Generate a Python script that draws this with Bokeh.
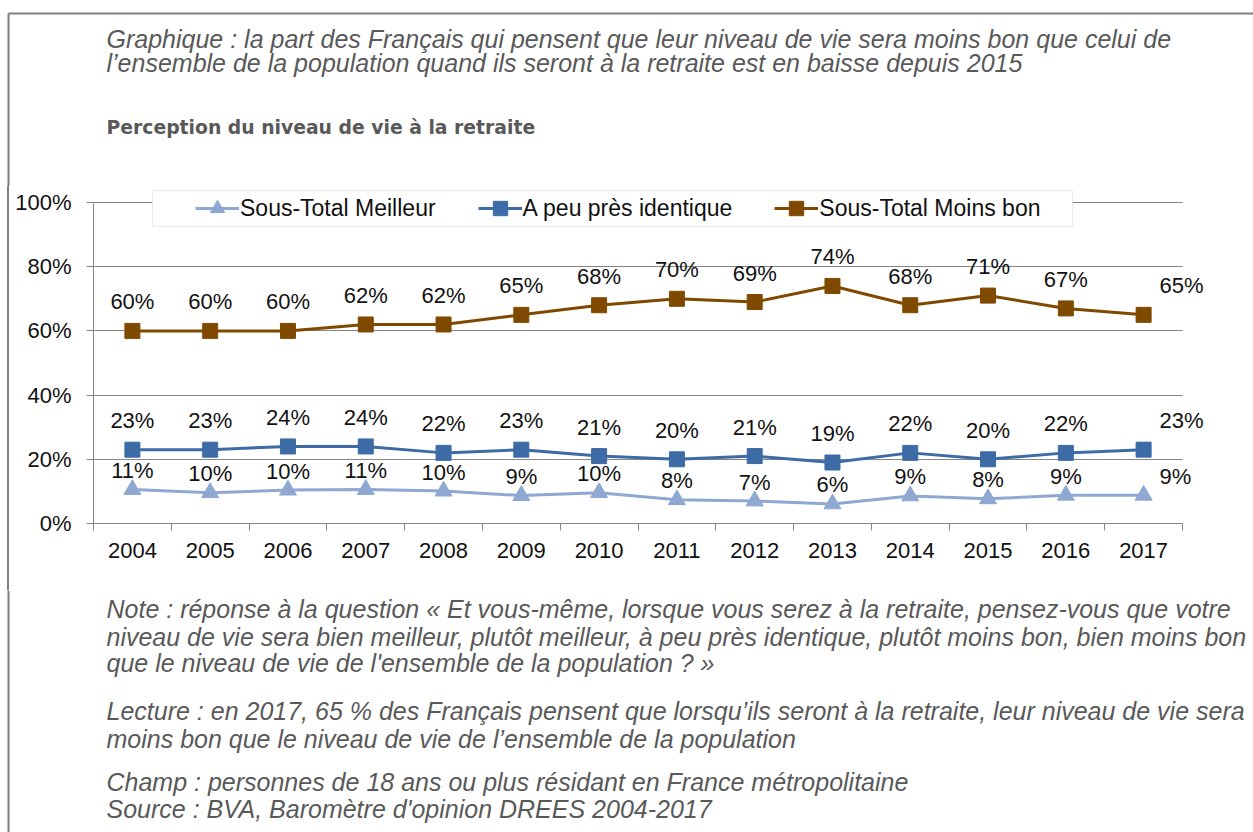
from bokeh.plotting import figure
from bokeh.layouts import column, row
from bokeh.models import (BoxAnnotation, Legend, LegendItem, FixedTicker,
                          PrintfTickFormatter, Range1d, Div)
from bokeh.embed import file_html
from bokeh.resources import INLINE
from bokeh.core.properties import value

# ---------------- data ----------------
years = [2004, 2005, 2006, 2007, 2008, 2009, 2010, 2011, 2012, 2013, 2014, 2015, 2016, 2017]
meilleur = [10.6, 9.6, 10.4, 10.6, 10.1, 8.7, 9.6, 7.4, 7.0, 6.1, 8.6, 7.7, 8.8, 8.8]
meilleur_labels = ["11%", "10%", "10%", "11%", "10%", "9%", "10%", "8%", "7%", "6%", "9%", "8%", "9%", "9%"]
identique = [23, 23, 24, 24, 22, 23, 21, 20, 21, 19, 22, 20, 22, 23]
moins_bon = [60, 60, 60, 62, 62, 65, 68, 70, 69, 74, 68, 71, 67, 65]
series_names = ["Sous-Total Meilleur", "A peu près identique", "Sous-Total Moins bon"]
y_ticks = [0, 20, 40, 60, 80, 100]

title_lines = [
    "Graphique : la part des Français qui pensent que leur niveau de vie sera moins bon que celui de",
    "l’ensemble de la population quand ils seront à la retraite est en baisse depuis 2015",
]
subtitle = "Perception du niveau de vie à la retraite"
note_lines = [
    "Note : réponse à la question « Et vous-même, lorsque vous serez à la retraite, pensez-vous que votre",
    "niveau de vie sera bien meilleur, plutôt meilleur, à peu près identique, plutôt moins bon, bien moins bon",
    "que le niveau de vie de l'ensemble de la population ? »",
    "Lecture : en 2017, 65 % des Français pensent que lorsqu’ils seront à la retraite, leur niveau de vie sera",
    "moins bon que le niveau de vie de l’ensemble de la population",
    "Champ : personnes de 18 ans ou plus résidant en France métropolitaine",
    "Source : BVA, Baromètre d'opinion DREES 2004-2017",
]

# ---------------- style ----------------
FONT = "Liberation Sans"
C_MEIL = "#8EA8D2"
C_IDEN = "#3D6BA6"
C_MOINS = "#7F4A00"
GREY = "#868686"
BORDER = "#7F7F7F"
TXT_GREY = "#595959"
TXT = "#111111"

W, H = 1253, 832
TOP_H = 186          # top text band
MID_H = 404          # chart band
BOT_H = H - TOP_H - MID_H
LEFT_W = 12          # left strip holding the outer border
BX, BY = 8, 13       # outer border position
TX = 106             # text left
NOTE_SIZE = "25px"


def blank(width, height, y0, y1):
    f = figure(width=width, height=height, output_backend="svg", toolbar_location=None,
               x_axis_type=None, y_axis_type=None, title=None,
               x_range=Range1d(0, width), y_range=Range1d(y1, y0), min_border=0)
    f.outline_line_color = None
    f.background_fill_color = "white"
    f.border_fill_color = "white"
    f.grid.grid_line_color = None
    return f


def write(f, txt, x, y, size=NOTE_SIZE, style="italic", font=FONT, color=TXT_GREY):
    f.text([x], [y], text=[txt], text_font=value(font), text_font_size=size,
           text_font_style=style, text_color=color, text_align="left", text_baseline="middle")


# ---------------- top band ----------------
top = blank(W, TOP_H, 0, TOP_H)
top.segment([BX, BX], [BY, BY], [W + 5, BX], [BY, TOP_H + 5], line_color=BORDER, line_width=2)
write(top, title_lines[0], TX, 38.5)
write(top, title_lines[1], TX, 62.5)
write(top, subtitle, TX, 126.5, size="18.8px", style="bold", font="DejaVu Sans")

# ---------------- left strip (outer border) ----------------
left = Div(text="", width=2, height=MID_H, margin=(0, LEFT_W - BX + 1 - 2, 0, BX - 1),
           styles={"background-color": BORDER})

# ---------------- chart ----------------
FRAME_L, FRAME_T, FRAME_B = 91, 188, 523      # page px
Y100, Y0 = 202, 523                           # page px of 100% and 0%
YEAR_PX = 77.92
x_start = years[0] - 0.5
x_end = x_start + (W - FRAME_L) / YEAR_PX
y_top = 100 * (Y0 - FRAME_T) / (Y0 - Y100)

p = figure(width=W - LEFT_W, height=MID_H, output_backend="svg", toolbar_location=None, title=None,
           x_range=Range1d(x_start, x_end), y_range=Range1d(0, y_top),
           min_border_left=FRAME_L - LEFT_W, min_border_right=0,
           min_border_top=FRAME_T - TOP_H, min_border_bottom=TOP_H + MID_H - FRAME_B)
p.outline_line_color = None
p.background_fill_color = "white"
p.border_fill_color = "white"

p.xaxis.ticker = FixedTicker(ticks=years, minor_ticks=[y - 0.5 for y in years] + [years[-1] + 0.5])
p.xaxis.bounds = (years[0] - 0.5, years[-1] + 0.5)
p.xaxis.formatter = PrintfTickFormatter(format="%d")
p.xaxis.axis_line_color = GREY
p.xaxis.major_tick_out = 0
p.xaxis.major_tick_in = 0
p.xaxis.minor_tick_out = 7
p.xaxis.minor_tick_in = 0
p.xaxis.minor_tick_line_color = GREY
p.xaxis.major_label_standoff = 12
p.xaxis.major_label_text_font = FONT
p.xaxis.major_label_text_font_size = "22px"
p.xaxis.major_label_text_color = TXT

p.yaxis.ticker = FixedTicker(ticks=y_ticks)
p.yaxis.bounds = (0, 100)
p.yaxis.formatter = PrintfTickFormatter(format="%d%%")
p.yaxis.axis_line_color = GREY
p.yaxis.major_tick_line_color = GREY
p.yaxis.major_tick_out = 7
p.yaxis.major_tick_in = 0
p.yaxis.minor_tick_line_color = None
p.yaxis.major_label_standoff = 15
p.yaxis.major_label_text_font = FONT
p.yaxis.major_label_text_font_size = "22px"
p.yaxis.major_label_text_color = TXT

p.xgrid.grid_line_color = None
p.ygrid.grid_line_color = GREY
p.ygrid.grid_line_width = 1
p.ygrid.ticker = FixedTicker(ticks=y_ticks[1:])
try:
    p.ygrid.cross_bounds = (years[0] - 0.5, years[-1] + 0.5)
except Exception:
    pass

# series
renderers = []
for vals, color, marker, size in [(meilleur, C_MEIL, "triangle", 17),
                                  (identique, C_IDEN, "square", 15),
                                  (moins_bon, C_MOINS, "square", 15)]:
    ln = p.line(years, vals, line_width=3, line_color=color)
    sc = p.scatter(years, vals, marker=marker, size=size, fill_color=color, line_color=color)
    renderers.append([ln, sc])

# data labels
lab_sets = [(meilleur, meilleur_labels, -19),
            (identique, [f"{v}%" for v in identique], -29),
            (moins_bon, [f"{v}%" for v in moins_bon], -29)]
for vals, labs, dy in lab_sets:
    p.text(years[:-1], vals[:-1], text=labs[:-1], text_font=value(FONT), text_font_size="22px",
           text_align="center", text_baseline="middle", y_offset=dy, text_color=TXT)
    p.text(years[-1:], vals[-1:], text=labs[-1:], text_font=value(FONT), text_font_size="22px",
           text_align="left", text_baseline="middle", x_offset=16, y_offset=dy, text_color=TXT)

# legend box + legend (screen units from the frame's bottom-left)
p.add_layout(BoxAnnotation(left=150 - FRAME_L, right=1070 - FRAME_L,
                           top=FRAME_B - 190, bottom=FRAME_B - 226,
                           left_units="screen", right_units="screen",
                           top_units="screen", bottom_units="screen",
                           fill_color="white", fill_alpha=1, line_color="#BFBFBF", line_width=1))
legend = Legend(items=[LegendItem(label=n, renderers=r) for n, r in zip(series_names, renderers)],
                orientation="horizontal", location=(193 - FRAME_L, FRAME_B - 226),
                glyph_width=44, glyph_height=36, label_standoff=1, spacing=42, padding=0, margin=0,
                border_line_alpha=0, background_fill_alpha=0,
                label_text_font=FONT, label_text_font_size="23px", label_text_color=TXT)
p.add_layout(legend, "center")

# ---------------- bottom band ----------------
bot = blank(W, BOT_H, TOP_H + MID_H, H)
bot.segment([BX], [TOP_H + MID_H - 5], [BX], [H + 5], line_color=BORDER, line_width=2)
for txt, yc in zip(note_lines, [608.5, 636.5, 662.5, 710.5, 738.5, 781.5, 808.5]):
    write(bot, txt, TX, yc)

layout = column(top, row(left, p), bot)
open("out.html", "w").write(file_html(layout, INLINE))
